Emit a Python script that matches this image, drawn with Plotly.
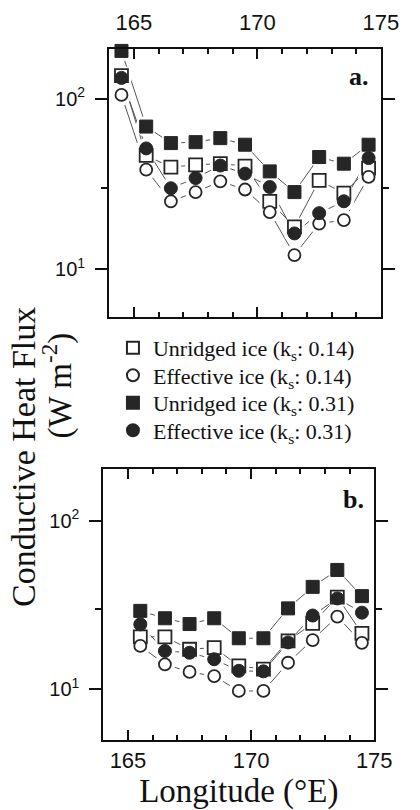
import plotly.graph_objects as go

# Longitudes (°E) of the sample bins
lon_a = [164.5, 165.5, 166.5, 167.5, 168.5, 169.5, 170.5, 171.5, 172.5, 173.5, 174.5]
lon_b = [165.5, 166.5, 167.5, 168.5, 169.5, 170.5, 171.5, 172.5, 173.5, 174.5]

# Panel a: conductive heat flux (W m-2)
unr014_a = [136, 46.4, 39.6, 40.9, 41.5, 40.2, 25.0, 17.7, 33.1, 27.9, 39.1]
eff014_a = [105, 38.3, 25.0, 28.3, 32.7, 29.3, 21.6, 12.1, 18.5, 19.4, 34.7]
unr031_a = [190, 68.5, 54.8, 55.5, 58.6, 53.6, 37.4, 28.3, 45.4, 41.5, 53.6]
eff031_a = [132, 51.0, 29.8, 34.2, 40.5, 36.3, 30.3, 16.2, 21.3, 25.0, 44.8]

# Panel b: conductive heat flux (W m-2)
unr014_b = [20.5, 20.5, 17.3, 17.7, 13.8, 13.2, 19.4, 24.6, 35.2, 21.5]
eff014_b = [18.1, 14.1, 12.7, 12.0, 9.8, 9.8, 14.4, 19.6, 27.0, 18.9]
unr031_b = [29.2, 26.4, 24.4, 26.4, 20.1, 20.1, 30.2, 40.5, 51.0, 35.7]
eff031_b = [24.3, 16.9, 16.5, 15.1, 12.9, 12.8, 19.0, 27.4, 34.6, 28.5]

labels = [
    "Unridged ice (k<sub>s</sub>: 0.14)",
    "Effective ice (k<sub>s</sub>: 0.14)",
    "Unridged ice (k<sub>s</sub>: 0.31)",
    "Effective ice (k<sub>s</sub>: 0.31)",
]
y_ticks = [10, 100]
y_ticktext = ["10<sup>1</sup>", "10<sup>2</sup>"]
x_ticks = [165, 170, 175]

DARK = "#262626"
styles = [
    dict(symbol="square", color="white", line=dict(color=DARK, width=1.8), size=13),
    dict(symbol="circle", color="white", line=dict(color=DARK, width=1.8), size=12),
    dict(symbol="square", color=DARK, line=dict(color=DARK, width=1), size=13),
    dict(symbol="circle", color=DARK, line=dict(color=DARK, width=1), size=13),
]
legend_ids = ["legend", "legend2", "legend3", "legend4"]

panels = [
    ("x", "y", lon_a, [unr014_a, eff014_a, unr031_a, eff031_a], True),
    ("x2", "y2", lon_b, [unr014_b, eff014_b, unr031_b, eff031_b], False),
]

fig = go.Figure()

# connecting lines
for xa, ya, lon, sets, _ in panels:
    for vals in sets:
        fig.add_trace(go.Scatter(x=lon, y=vals, xaxis=xa, yaxis=ya, mode="lines",
                                 line=dict(color="#555555", width=1),
                                 showlegend=False, hoverinfo="skip"))

# white halos so the lines stop short of each symbol
for xa, ya, lon, sets, _ in panels:
    for vals in sets:
        fig.add_trace(go.Scatter(x=lon, y=vals, xaxis=xa, yaxis=ya, mode="markers",
                                 marker=dict(symbol="circle", color="white", size=21,
                                             line=dict(width=0)),
                                 showlegend=False, hoverinfo="skip"))

# symbols
for xa, ya, lon, sets, leg in panels:
    for name, vals, st, lid in zip(labels, sets, styles, legend_ids):
        fig.add_trace(go.Scatter(x=lon, y=vals, xaxis=xa, yaxis=ya, mode="markers",
                                 name=name, marker=st, cliponaxis=False,
                                 showlegend=leg, legend=lid))

W, H = 420, 810
serif = "Liberation Serif"
tick_font = dict(family="Liberation Sans", size=22, color="#111")

xcommon = dict(range=[164, 175], tickmode="array", tickvals=x_ticks,
               ticks="inside", ticklen=10, tickwidth=1.5, tickcolor="#111",
               minor=dict(dtick=1, tick0=164, ticks="inside", ticklen=5,
                          tickwidth=1.5, tickcolor="#111"),
               showline=True, linewidth=2, linecolor="#111", mirror="ticks",
               showgrid=False, zeroline=False, tickfont=tick_font)
ycommon = dict(type="log", tickmode="array", tickvals=y_ticks, ticktext=y_ticktext,
               ticks="outside", ticklen=12, tickwidth=1.5, tickcolor="#111",
               minor=dict(tickmode="array", tickvals=[30], ticks="outside",
                          ticklen=6, tickwidth=1.5, tickcolor="#111"),
               showline=True, linewidth=2, linecolor="#111", mirror="ticks",
               showgrid=False, zeroline=False,
               tickfont=dict(family="Liberation Sans", size=20, color="#111"),
               ticklabelstandoff=6)

# one single-row legend per entry, stacked at a tight line pitch
legend_rows = [348, 375.5, 403, 430.5]
legends = {}
for lid, row in zip(legend_ids, legend_rows):
    legends[lid] = dict(x=118 / W, y=1 - row / H, xanchor="left", yanchor="middle",
                        font=dict(family=serif, size=22, color="#111"),
                        bgcolor="rgba(0,0,0,0)", itemsizing="constant")

fig.update_layout(
    width=W, height=H, margin=dict(l=0, r=0, t=0, b=0),
    paper_bgcolor="white", plot_bgcolor="white",
    xaxis=dict(domain=[114 / W, 398 / W], anchor="y", side="top",
               ticklabelstandoff=8, **xcommon),
    yaxis=dict(domain=[1 - 317 / H, 1 - 49 / H], anchor="x", range=[0.72, 2.29], **ycommon),
    xaxis2=dict(domain=[108 / W, 391 / W], anchor="y2", side="bottom",
                title=dict(text="Longitude (°E)", font=dict(family=serif, size=33, color="#111"),
                           standoff=9),
                **xcommon),
    yaxis2=dict(domain=[1 - 739.5 / H, 1 - 469 / H], anchor="x2", range=[0.704, 2.305], **ycommon),
    showlegend=True,
    annotations=[
        dict(text="<b>a.</b>", x=388 / W, y=1 - 76 / H, xref="paper", yref="paper",
             xanchor="right", yanchor="middle", showarrow=False,
             font=dict(family=serif, size=26, color="#111")),
        dict(text="<b>b.</b>", x=382 / W, y=1 - 499 / H, xref="paper", yref="paper",
             xanchor="right", yanchor="middle", showarrow=False,
             font=dict(family=serif, size=26, color="#111")),
        dict(text="Conductive Heat Flux", x=24 / W, y=1 - 457 / H, xref="paper", yref="paper",
             xanchor="center", yanchor="middle", textangle=-90, showarrow=False,
             font=dict(family=serif, size=34, color="#111")),
        dict(text="(W m<sup>-2</sup>)", x=60 / W, y=1 - 385 / H, xref="paper", yref="paper",
             xanchor="center", yanchor="middle", textangle=-90, showarrow=False,
             font=dict(family=serif, size=33, color="#111")),
    ],
    **legends,
)

fig.write_html("out.html")
